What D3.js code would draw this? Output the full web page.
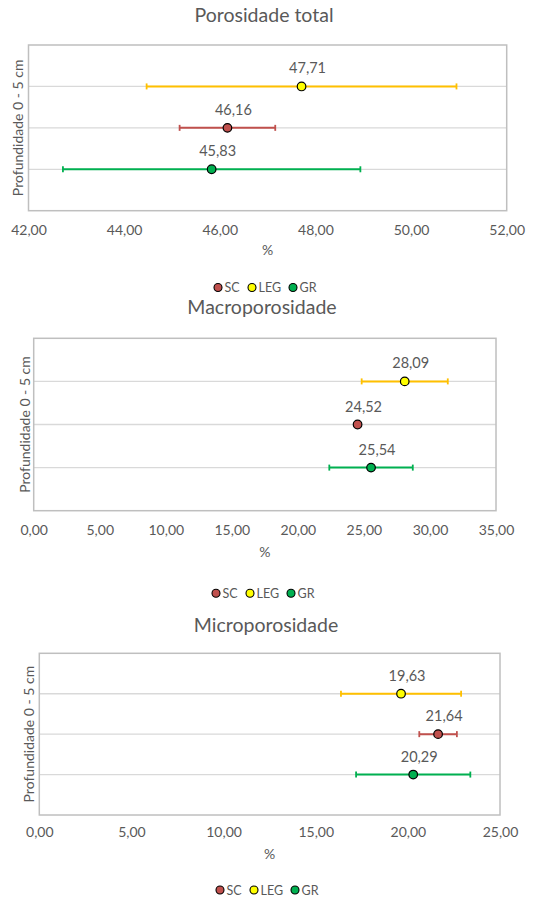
<!DOCTYPE html>
<html>
<head>
<meta charset="utf-8">
<script src="https://cdn.jsdelivr.net/npm/d3@7"></script>
<style>
  html, body { margin: 0; padding: 0; background: #fff; }
  svg { display: block; }
  text { font-family: "Lato", "Open Sans", sans-serif; fill: #595959; }
</style>
</head>
<body>
<svg id="chart" width="541" height="898"></svg>
<script>
// ---------- DATA ----------
const categories = ["SC", "LEG", "GR"];
const rowOrder = ["LEG", "SC", "GR"];
const chartTitles = ["Porosidade total", "Macroporosidade", "Microporosidade"];
const yAxisTitle = "Profundidade 0 - 5 cm";
const xAxisTitle = "%";

const totalValues = [46.16, 47.71, 45.83];
const totalErrors = [1.00, 3.24, 3.11];
const macroValues = [24.52, 28.09, 25.54];
const macroErrors = [0, 3.26, 3.16];
const microValues = [21.64, 19.63, 20.29];
const microErrors = [1.02, 3.26, 3.10];

const totalTicks = [42, 44, 46, 48, 50, 52];
const macroTicks = [0, 5, 10, 15, 20, 25, 30, 35];
const microTicks = [0, 5, 10, 15, 20, 25];

// ---------- STYLE ----------
const fillColors = { SC: "#c0504d", LEG: "#ffff00", GR: "#00b050" };
const barColors  = { SC: "#c0504d", LEG: "#ffc000", GR: "#00b050" };
const fmt = v => d3.format(".2f")(v).replace(".", ",");

const layouts = [
  { L: 28.5, R: 506.7, T: 45, B: 210.7, titleBase: 22, tickY: 229, pctY: 249, legY: 287.5, yLabX: 17.5, titleX: 264, legX: 266 },
  { L: 33.7, R: 496, T: 338.3, B: 510.7, titleBase: 314, tickY: 529.3, pctY: 551.7, legY: 593.3, yLabX: 24, titleX: 262, legX: 264 },
  { L: 39.3, R: 500, T: 653.3, B: 815, titleBase: 632, tickY: 831.7, pctY: 853.3, legY: 890, yLabX: 28.3, titleX: 266, legX: 268 }
];

const datasets = [
  { values: totalValues, errors: totalErrors, ticks: totalTicks },
  { values: macroValues, errors: macroErrors, ticks: macroTicks },
  { values: microValues, errors: microErrors, ticks: microTicks }
];

const svg = d3.select("#chart");

datasets.forEach((ds, i) => {
  const lay = layouts[i];
  const g = svg.append("g");
  const x = d3.scaleLinear().domain(d3.extent(ds.ticks)).range([lay.L, lay.R]);
  const y = d3.scalePoint().domain(rowOrder).range([lay.T, lay.B]).padding(1);
  const pts = categories.map((c, k) => ({ cat: c, v: ds.values[k], e: ds.errors[k] }));

  // title
  g.append("text").attr("x", lay.titleX).attr("y", lay.titleBase)
    .attr("text-anchor", "middle")
    .style("font-size", "19.5px").text(chartTitles[i]);

  // gridlines
  g.selectAll("line.grid").data(rowOrder).join("line")
    .attr("x1", lay.L).attr("x2", lay.R)
    .attr("y1", d => y(d)).attr("y2", d => y(d))
    .attr("stroke", "#d9d9d9").attr("stroke-width", 1.3);

  // plot border
  g.append("rect").attr("x", lay.L).attr("y", lay.T)
    .attr("width", lay.R - lay.L).attr("height", lay.B - lay.T)
    .attr("fill", "none").attr("stroke", "#bfbfbf").attr("stroke-width", 1.5);

  // x axis tick labels
  const axis = d3.axisBottom(x).tickValues(ds.ticks).tickFormat(fmt).tickSize(0).tickPadding(0);
  const ax = g.append("g").attr("transform", `translate(0,${lay.tickY})`).call(axis);
  ax.select(".domain").remove();
  ax.selectAll("text").attr("dy", null).attr("y", 0)
    .attr("dominant-baseline", "central")
    .style("font-size", "14px").style("fill", "#595959")
    .style("font-family", "Lato, 'Open Sans', sans-serif");

  // x axis title
  g.append("text").attr("x", (lay.L + lay.R) / 2).attr("y", lay.pctY)
    .attr("text-anchor", "middle").attr("dominant-baseline", "central")
    .style("font-size", "14px").text(xAxisTitle);

  // y axis title
  g.append("text")
    .attr("transform", `translate(${lay.yLabX},${(lay.T + lay.B) / 2}) rotate(-90)`)
    .attr("text-anchor", "middle").attr("dominant-baseline", "central")
    .style("font-size", "14px").text(yAxisTitle);

  // error bars
  const eb = g.selectAll("g.eb").data(pts.filter(p => p.e > 0)).join("g");
  eb.append("line")
    .attr("x1", d => x(d.v - d.e)).attr("x2", d => x(d.v + d.e))
    .attr("y1", d => y(d.cat)).attr("y2", d => y(d.cat))
    .attr("stroke", d => barColors[d.cat]).attr("stroke-width", 2);
  [-1, 1].forEach(s => {
    eb.append("line")
      .attr("x1", d => x(d.v + s * d.e)).attr("x2", d => x(d.v + s * d.e))
      .attr("y1", d => y(d.cat) - 3).attr("y2", d => y(d.cat) + 3)
      .attr("stroke", d => barColors[d.cat]).attr("stroke-width", 1.8);
  });

  // markers
  g.selectAll("circle.m").data(pts).join("circle")
    .attr("cx", d => x(d.v)).attr("cy", d => y(d.cat)).attr("r", 4.3)
    .attr("fill", d => fillColors[d.cat]).attr("stroke", "#000").attr("stroke-width", 1.2);

  // data labels
  g.selectAll("text.lab").data(pts).join("text")
    .attr("x", d => x(d.v) + 6).attr("y", d => y(d.cat) - 18.5)
    .attr("text-anchor", "middle").attr("dominant-baseline", "central")
    .style("font-size", "14.5px").text(d => fmt(d.v));

  // legend
  const legItems = [
    { cat: "SC", dx: -48 }, { cat: "LEG", dx: -14 }, { cat: "GR", dx: 27 }
  ];
  const lg = g.append("g").attr("transform", `translate(${lay.legX},${lay.legY})`);
  legItems.forEach(it => {
    lg.append("circle").attr("cx", it.dx).attr("cy", 0).attr("r", 4)
      .attr("fill", fillColors[it.cat]).attr("stroke", "#000").attr("stroke-width", 1.1);
    lg.append("text").attr("x", it.dx + 6.5).attr("y", 0)
      .attr("dominant-baseline", "central").style("font-size", "12.5px").text(it.cat);
  });
});
</script>
</body>
</html>
